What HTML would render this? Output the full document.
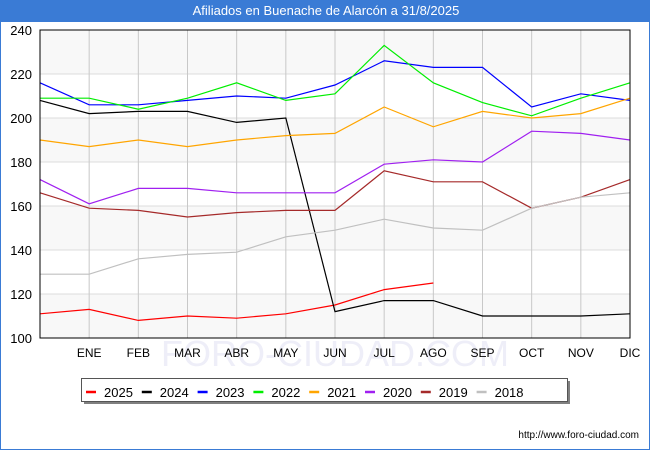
<!DOCTYPE html>
<html><head><meta charset="utf-8"><style>
body{margin:0;background:#fff;font-family:"Liberation Sans","DejaVu Sans",sans-serif}
#wrap{position:relative;width:650px;height:450px;box-sizing:border-box;border:1px solid #3a7bd5;border-top:none;overflow:hidden}
#title{position:absolute;left:0;top:0;width:650px;height:22px;background:#3a7bd5;color:#fff;font-size:13px;text-align:center;line-height:22px}
</style></head><body>
<div id="wrap">
<div id="title">Afiliados en Buenache de Alarcón a 31/8/2025</div>
<svg id="chart" width="650" height="450" style="position:absolute;left:-1px;top:0"></svg>
</div>
<script>
const months=["ENE","FEB","MAR","ABR","MAY","JUN","JUL","AGO","SEP","OCT","NOV","DIC"];
const yTicks=[100,120,140,160,180,200,220,240];
const years=["2025","2024","2023","2022","2021","2020","2019","2018"];
const colors=["#ff0000","#000000","#0000ff","#00ee00","#ffa500","#a020f0","#a52a2a","#c0c0c0"];
const s2025=[111,113,108,110,109,111,115,122,125];
const s2024=[208,202,203,203,198,200,112,117,117,110,110,110,111];
const s2023=[216,206,206,208,210,209,215,226,223,223,205,211,208];
const s2022=[209,209,204,209,216,208,211,233,216,207,201,209,216];
const s2021=[190,187,190,187,190,192,193,205,196,203,200,202,209];
const s2020=[172,161,168,168,166,166,166,179,181,180,194,193,190];
const s2019=[166,159,158,155,157,158,158,176,171,171,159,164,172];
const s2018=[129,129,136,138,139,146,149,154,150,149,159,164,166];
const series=[s2025,s2024,s2023,s2022,s2021,s2020,s2019,s2018];
const L=40,R=630,T=30,B=338;
const x=i=>L+i*(R-L)/12;
const y=v=>B-(v-100)*(B-T)/140;
const svg=document.getElementById('chart');
const NS="http://www.w3.org/2000/svg";
function mk(t,a,p){const e=document.createElementNS(NS,t);for(const k in a)e.setAttribute(k,a[k]);(p||svg).appendChild(e);return e;}
// bands
for(let i=0;i<yTicks.length-1;i++){
  const b=mk('rect',{x:L,y:y(yTicks[i+1]),width:R-L,height:y(yTicks[i])-y(yTicks[i+1]),fill:i%2==0?'#f8f8f8':'#ffffff'});
  
  
}
const wm=mk('text',{x:335,y:366,'text-anchor':'middle','font-size':36,fill:'#eeeef8'});
wm.textContent='FORO-CIUDAD.COM';


yTicks.forEach(v=>{
  const g=mk('line',{x1:L,x2:R,y1:y(v),y2:y(v),stroke:'#dddddd'});
  
  
  const t=mk('text',{x:32,y:y(v)+5,'text-anchor':'end','font-size':13,fill:'#000'});
  t.textContent=v;
  
  
});
months.forEach((m,i)=>{
  const g=mk('line',{x1:x(i+1),x2:x(i+1),y1:T,y2:B,stroke:'#c8c8c8'});
  
  
  const t=mk('text',{x:x(i+1),y:357,'text-anchor':'middle','font-size':12,fill:'#000'});
  t.textContent=m;
  
  
});
series.forEach((s,k)=>{
  const p=mk('polyline',{points:s.map((v,i)=>x(i)+','+y(v)).join(' '),fill:'none',stroke:colors[k],'stroke-width':1.2});
  
  
});
const frame=mk('rect',{x:L,y:T,width:R-L,height:B-T,fill:'none',stroke:'#000'});


// legend
const sh=mk('rect',{x:84,y:381,width:486,height:23,fill:'#808080'});


const lg=mk('rect',{x:81.5,y:378.5,width:486,height:23,fill:'#fff',stroke:'#555'});


years.forEach((yr,k)=>{
  const lx=86+k*55.8;
  const sw=mk('line',{x1:lx,x2:lx+10,y1:392,y2:392,stroke:colors[k],'stroke-width':2.5});
  
  
  const t=mk('text',{x:lx+18,y:397,'font-size':13,fill:'#000'});
  t.textContent=yr;
  
  
});
const u=mk('text',{x:639,y:438,'text-anchor':'end','font-size':10,fill:'#000'});
u.textContent='http://www.foro-ciudad.com';


</script>
</body></html>
